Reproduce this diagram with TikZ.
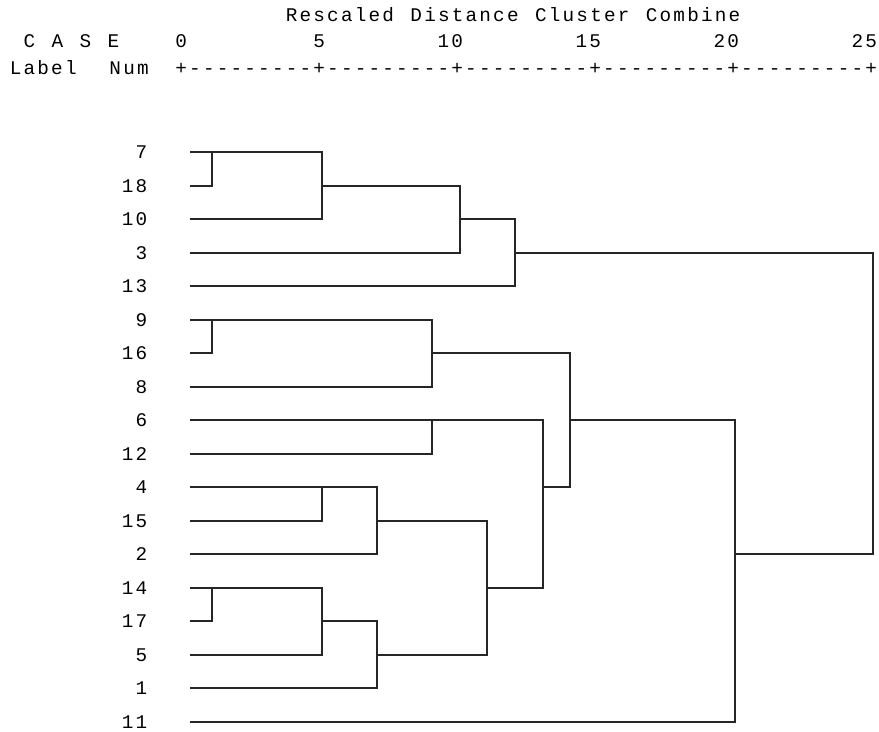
\documentclass[tikz,border=0pt]{standalone}
\usepackage{fontspec}
\newfontfamily\spssfont[LetterSpace=11.4,WordSpace=1.19,Ligatures=TeXOff]{Liberation Mono}

\begin{document}
\begin{tikzpicture}[x=0.02cm, y=-0.02cm,
    every node/.style={font=\spssfont\fontsize{11}{13}\selectfont, inner sep=0pt},
    header/.style={anchor=base west},
    casenum/.style={anchor=base east},
    tree/.style={line width=0.04cm, black!85}]
    \useasboundingbox (0,0) rectangle (879,731);
    % heading and scale
    \node (title) [header] at (285.5,21.4) {Rescaled Distance Cluster Combine};
    \node (case) [header] at (23.3,47.4) {C A S E};
    \node (t0) [header] at (175.1,47.4) {0};
    \node (t5) [header] at (313.1,47.4) {5};
    \node (t10) [header] at (437.3,47.4) {10};
    \node (t15) [header] at (575.3,47.4) {15};
    \node (t20) [header] at (713.3,47.4) {20};
    \node (t25) [header] at (851.3,47.4) {25};
    \node (lab) [header] at (9.5,74.4) {Label\ \ Num};
    \node (axis) [header] at (175.1,74.4) {+---------+---------+---------+---------+---------+};
    % case labels
    \node (l7) [casenum] at (147.5,158.4) {7};
    \node (l18) [casenum] at (147.5,192.4) {18};
    \node (l10) [casenum] at (147.5,225.4) {10};
    \node (l3) [casenum] at (147.5,259.4) {3};
    \node (l13) [casenum] at (147.5,292.4) {13};
    \node (l9) [casenum] at (147.5,326.4) {9};
    \node (l16) [casenum] at (147.5,359.4) {16};
    \node (l8) [casenum] at (147.5,393.4) {8};
    \node (l6) [casenum] at (147.5,426.4) {6};
    \node (l12) [casenum] at (147.5,460.4) {12};
    \node (l4) [casenum] at (147.5,493.4) {4};
    \node (l15) [casenum] at (147.5,527.4) {15};
    \node (l2) [casenum] at (147.5,560.4) {2};
    \node (l14) [casenum] at (147.5,594.4) {14};
    \node (l17) [casenum] at (147.5,627.4) {17};
    \node (l5) [casenum] at (147.5,661.4) {5};
    \node (l1) [casenum] at (147.5,694.4) {1};
    \node (l11) [casenum] at (147.5,728.4) {11};
    % leaf ends
    \coordinate (c7) at (190,152);
    \coordinate (c18) at (190,186);
    \coordinate (c10) at (190,219);
    \coordinate (c3) at (190,253);
    \coordinate (c13) at (190,286);
    \coordinate (c9) at (190,320);
    \coordinate (c16) at (190,353);
    \coordinate (c8) at (190,387);
    \coordinate (c6) at (190,420);
    \coordinate (c12) at (190,454);
    \coordinate (c4) at (190,487);
    \coordinate (c15) at (190,521);
    \coordinate (c2) at (190,554);
    \coordinate (c14) at (190,588);
    \coordinate (c17) at (190,621);
    \coordinate (c5) at (190,655);
    \coordinate (c1) at (190,688);
    \coordinate (c11) at (190,722);
    % merge points
    \coordinate (m1) at (212,152);
    \coordinate (m2) at (322,186);
    \coordinate (m3) at (460,219);
    \coordinate (m4) at (515,253);
    \coordinate (m5) at (212,320);
    \coordinate (m6) at (432,353);
    \coordinate (m7) at (432,420);
    \coordinate (m8) at (322,487);
    \coordinate (m9) at (377,521);
    \coordinate (m10) at (212,588);
    \coordinate (m11) at (322,621);
    \coordinate (m12) at (377,655);
    \coordinate (m13) at (487,588);
    \coordinate (m14) at (543,487);
    \coordinate (m15) at (570,420);
    \coordinate (m16) at (735,554);
    \coordinate (m17) at (873,387);
    % tree
    \draw[tree] (c7) -- (c7 -| m1) |- (c18);
    \draw[tree] (m1) -- (m1 -| m2) |- (c10);
    \draw[tree] (m2) -- (m2 -| m3) |- (c3);
    \draw[tree] (m3) -- (m3 -| m4) |- (c13);
    \draw[tree] (c9) -- (c9 -| m5) |- (c16);
    \draw[tree] (m5) -- (m5 -| m6) |- (c8);
    \draw[tree] (c6) -- (c6 -| m7) |- (c12);
    \draw[tree] (c4) -- (c4 -| m8) |- (c15);
    \draw[tree] (m8) -- (m8 -| m9) |- (c2);
    \draw[tree] (c14) -- (c14 -| m10) |- (c17);
    \draw[tree] (m10) -- (m10 -| m11) |- (c5);
    \draw[tree] (m11) -- (m11 -| m12) |- (c1);
    \draw[tree] (m9) -- (m9 -| m13) |- (m12);
    \draw[tree] (m7) -- (m7 -| m14) |- (m13);
    \draw[tree] (m6) -- (m6 -| m15) |- (m14);
    \draw[tree] (m15) -- (m15 -| m16) |- (c11);
    \draw[tree] (m4) -- (m4 -| m17) |- (m16);
\end{tikzpicture}
\end{document}
